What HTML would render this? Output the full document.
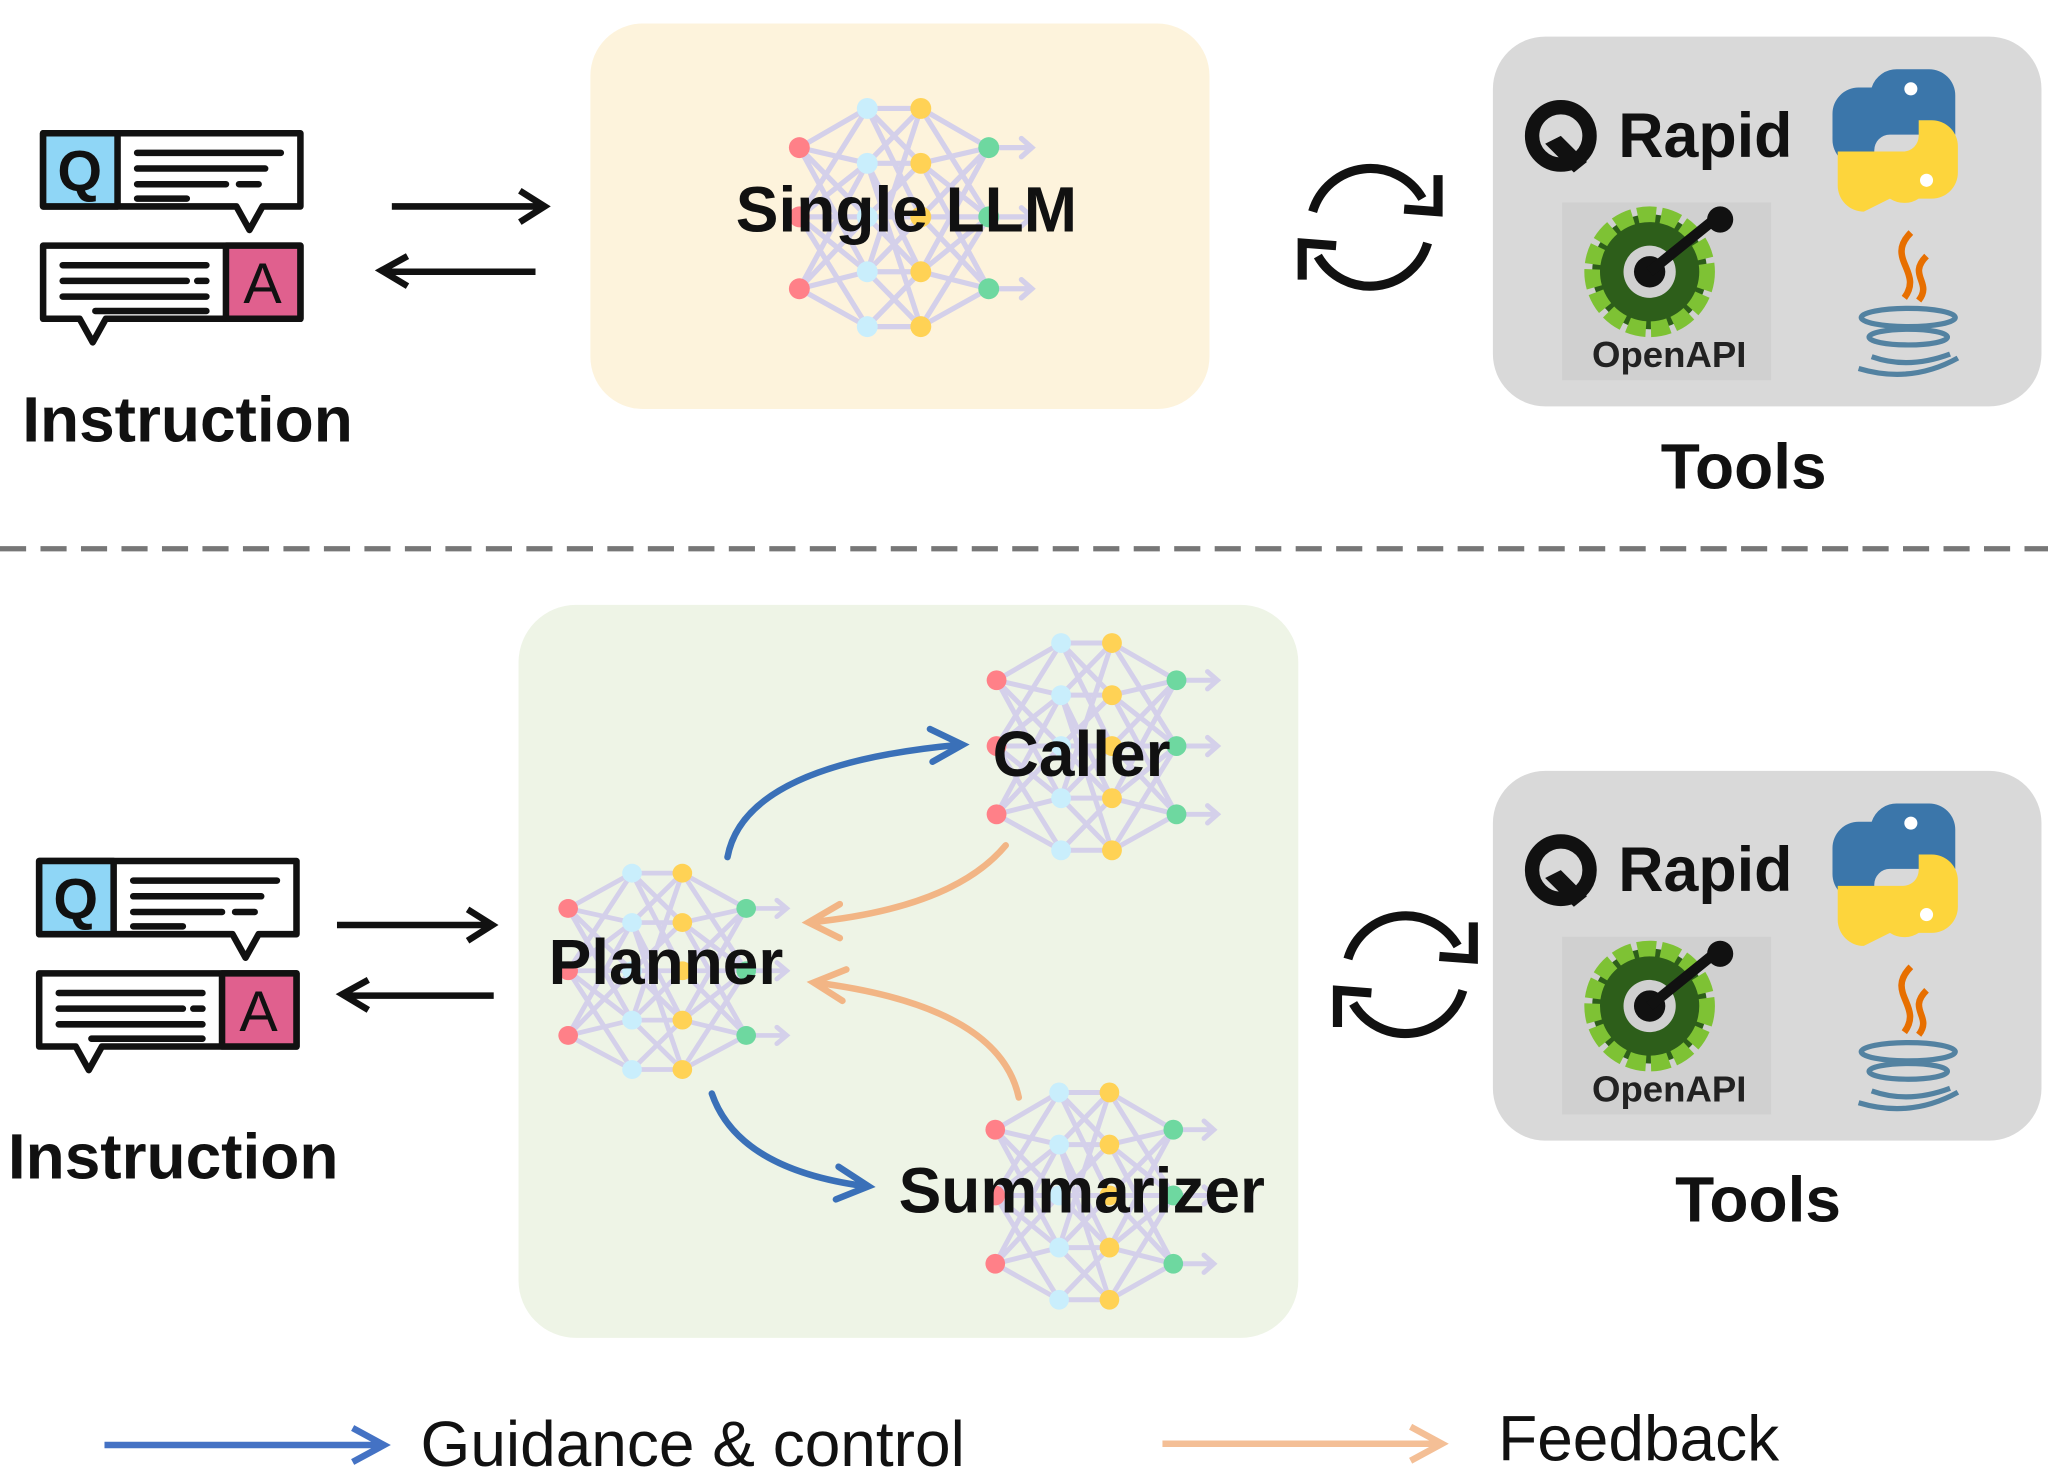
<!DOCTYPE html>
<html><head><meta charset="utf-8"><style>
html,body{margin:0;padding:0;background:#fff;}
svg{display:block;}
text{font-family:"Liberation Sans",Arial,sans-serif;}
</style></head><body>
<svg width="2048" height="1479" viewBox="0 0 1568 1132" preserveAspectRatio="none" xmlns="http://www.w3.org/2000/svg">
<defs>
<g id="net">
  <g stroke="#d4d0ea" stroke-width="4" fill="none" stroke-linecap="round">
    <path d="M0,-53 L52,-83 M0,-53 L52,-41 M0,-53 L52,0 M0,-53 L52,42 M0,0 L52,-83 M0,0 L52,-41 M0,0 L52,0 M0,0 L52,42 M0,0 L52,84 M0,55 L52,-41 M0,55 L52,0 M0,55 L52,42 M0,55 L52,84"/>
    <path d="M52,-83 L93,-83 M52,-83 L93,-41 M52,-83 L93,0 M52,-41 L93,-83 M52,-41 L93,-41 M52,-41 L93,42 M52,0 L93,-41 M52,0 L93,0 M52,0 L93,42 M52,42 L93,0 M52,42 L93,42 M52,42 L93,84 M52,84 L93,42 M52,84 L93,84 M52,-41 L93,84 M52,42 L93,-83"/>
    <path d="M93,-83 L145,-53 M93,-83 L145,0 M93,-41 L145,-53 M93,-41 L145,0 M93,-41 L145,55 M93,0 L145,-53 M93,0 L145,0 M93,0 L145,55 M93,42 L145,-53 M93,42 L145,0 M93,42 L145,55 M93,84 L145,0 M93,84 L145,55"/>
    <path d="M145,-53 L178,-53 M170,-60 L178,-53 L170,-46 M145,0 L178,0 M170,-7 L178,0 L170,7 M145,55 L178,55 M170,48 L178,55 L170,62"/>
  </g>
  <g fill="#ff8088"><circle cx="0" cy="-53" r="8"/><circle cx="0" cy="0" r="8"/><circle cx="0" cy="55" r="8"/></g>
  <g fill="#c9eefc"><circle cx="52" cy="-83" r="8"/><circle cx="52" cy="-41" r="8"/><circle cx="52" cy="0" r="8"/><circle cx="52" cy="42" r="8"/><circle cx="52" cy="84" r="8"/></g>
  <g fill="#ffd255"><circle cx="93" cy="-83" r="8"/><circle cx="93" cy="-41" r="8"/><circle cx="93" cy="0" r="8"/><circle cx="93" cy="42" r="8"/><circle cx="93" cy="84" r="8"/></g>
  <g fill="#6ed8a0"><circle cx="145" cy="-53" r="8"/><circle cx="145" cy="0" r="8"/><circle cx="145" cy="55" r="8"/></g>
</g>
<g id="qa">
  <g stroke="#111" stroke-width="5" stroke-linejoin="round">
    <path d="M0,0 H197 V56 H168 L158,74 L148,56 H0 Z" fill="#fff"/>
    <rect x="0" y="0" width="57" height="56" fill="#8fd6f6"/>
    <path d="M0,86 H197 V142 H48 L38,160 L28,142 H0 Z" fill="#fff"/>
    <rect x="140" y="86" width="57" height="56" fill="#e0608e"/>
  </g>
  <text x="28" y="44" font-size="44" font-weight="bold" text-anchor="middle" fill="#111">Q</text>
  <text x="168" y="130" font-size="44" text-anchor="middle" fill="#111">A</text>
  <g stroke="#111" stroke-width="5" stroke-linecap="round">
    <path d="M72,15 H182 M72,27 H170 M72,39 H140 M150,39 H165 M72,50 H110"/>
    <path d="M15,101 H125 M15,113 H110 M118,113 H125 M15,125 H125 M40,136 H125"/>
  </g>
</g>
<g id="sync" fill="none" stroke="#111" stroke-width="7">
  <path d="M-44,-12 A46,46 0 0 1 40,-22"/>
  <path d="M44,12 A46,46 0 0 1 -40,22"/>
  <path d="M52,-40 L52,-12 L26,-14" stroke-linejoin="miter"/>
  <path d="M-52,40 L-52,12 L-26,14"/>
</g>
<g id="tools">
  <rect x="0" y="0" width="420" height="283" rx="40" fill="#d9d9d9"/>
  <circle cx="52" cy="76" r="22" fill="none" stroke="#111" stroke-width="11"/>
  <path d="M40,82 L62,104 L72,96 L52,76 Z" fill="#111"/>
  <text x="96" y="92" font-size="48" font-weight="bold" fill="#111">Rapid</text>
  <path d="M310,25 h24 a20,20 0 0 1 20,20 v30 h-50 a12,12 0 0 0 -12,12 v12 h-12 a20,20 0 0 1 -20,-20 v-20 a20,20 0 0 1 20,-20 h10 a20,20 0 0 1 20,-14 Z" fill="#3b76aa"/>
  <path d="M304,124 h-0 a20,20 0 0 0 22,0 h10 a20,20 0 0 0 20,-20 v-20 a20,20 0 0 0 -20,-20 h-10 v12 a12,12 0 0 1 -12,12 h-50 v26 a20,20 0 0 0 20,20 Z" fill="#fdd53c"/>
  <circle cx="320" cy="40" r="5" fill="#fff"/>
  <circle cx="332" cy="110" r="5" fill="#fff"/>
  <rect x="53" y="127" width="160" height="136" fill="#d0d0d0"/>
  <circle cx="120" cy="180" r="44" fill="#2d5e1a"/>
  <circle cx="120" cy="180" r="44" fill="none" stroke="#7ec234" stroke-width="12" stroke-dasharray="14 4"/>
  <circle cx="120" cy="180" r="20" fill="#d0d0d0"/>
  <circle cx="120" cy="180" r="12" fill="#111"/>
  <path d="M120,180 L172,138" stroke="#111" stroke-width="8"/>
  <circle cx="174" cy="140" r="10" fill="#111"/>
  <text x="135" y="253" font-size="28" font-weight="bold" fill="#222" text-anchor="middle">OpenAPI</text>
  <path d="M320,150 c-20,20 10,30 -5,50 M332,168 c-15,15 5,20 -6,34" stroke="#e76f00" stroke-width="5" fill="none"/>
  <g fill="none" stroke="#5382a1" stroke-width="4">
    <ellipse cx="318" cy="215" rx="36" ry="7"/>
    <ellipse cx="318" cy="230" rx="30" ry="6"/>
    <path d="M290,245 q28,10 60,-2 M280,254 q40,12 76,-8"/>
  </g>
</g>
</defs>

<!-- top section -->
<use href="#qa" x="33" y="102"/>
<text x="17" y="338" font-size="49" font-weight="bold" fill="#111">Instruction</text>
<path d="M300,158 H415 M398,146 L417,158 L398,170" stroke="#111" stroke-width="5" fill="none"/>
<path d="M410,208 H293 M312,196 L292,207 L312,219" stroke="#111" stroke-width="5" fill="none"/>
<rect x="452" y="18" width="474" height="295" rx="40" fill="#fdf3dc"/>
<use href="#net" x="612" y="166"/>
<text x="694" y="177" font-size="49" font-weight="bold" text-anchor="middle" fill="#111">Single LLM</text>
<use href="#sync" x="1049" y="174"/>
<use href="#tools" x="1143" y="28"/>
<text x="1335" y="374" font-size="49" font-weight="bold" text-anchor="middle" fill="#111">Tools</text>

<line x1="0" y1="420" x2="1568" y2="420" stroke="#777" stroke-width="4" stroke-dasharray="20 11"/>

<!-- bottom section -->
<use href="#qa" x="30" y="659"/>
<text x="6" y="902" font-size="49" font-weight="bold" fill="#111">Instruction</text>
<path d="M258,708 H375 M358,696 L377,708 L358,720" stroke="#111" stroke-width="5" fill="none"/>
<path d="M378,762 H263 M282,750 L262,761 L282,773" stroke="#111" stroke-width="5" fill="none"/>
<rect x="397" y="463" width="597" height="561" rx="44" fill="#eef4e6"/>
<g transform="translate(763,571) scale(0.95,0.95)"><use href="#net"/></g>
<g transform="translate(435,743) scale(0.94,0.9)"><use href="#net"/></g>
<g transform="translate(762,915) scale(0.94,0.95)"><use href="#net"/></g>
<text x="760" y="594" font-size="49" font-weight="bold" fill="#111">Caller</text>
<text x="420" y="753" font-size="49" font-weight="bold" fill="#111">Planner</text>
<text x="688" y="928" font-size="49" font-weight="bold" fill="#111">Summarizer</text>
<g fill="none" stroke-width="5" stroke-linecap="round">
  <path d="M557,656 Q570,585 735,570" stroke="#3a70b8"/>
  <path d="M712,558 L737,570 L714,583" stroke="#3a70b8"/>
  <path d="M545,837 Q565,895 663,908" stroke="#3a70b8"/>
  <path d="M642,893 L665,908 L640,918" stroke="#3a70b8"/>
  <path d="M770,647 Q730,695 620,706" stroke="#f2b585"/>
  <path d="M643,692 L619,706 L643,718" stroke="#f2b585"/>
  <path d="M780,840 Q765,770 624,752" stroke="#f2b585"/>
  <path d="M648,742 L623,752 L645,766" stroke="#f2b585"/>
</g>
<use href="#sync" x="1076" y="746"/>
<use href="#tools" x="1143" y="590"/>
<text x="1346" y="935" font-size="49" font-weight="bold" text-anchor="middle" fill="#111">Tools</text>

<!-- legend -->
<path d="M80,1106 H292 M270,1093 L294,1106 L270,1119" stroke="#4472c4" stroke-width="5" fill="none"/>
<text x="322" y="1122" font-size="49" fill="#111">Guidance &amp; control</text>
<path d="M890,1105 H1102 M1080,1092 L1104,1105 L1080,1118" stroke="#f4bf96" stroke-width="5" fill="none"/>
<text x="1147" y="1118" font-size="49" fill="#111">Feedback</text>
</svg>
</body></html>
